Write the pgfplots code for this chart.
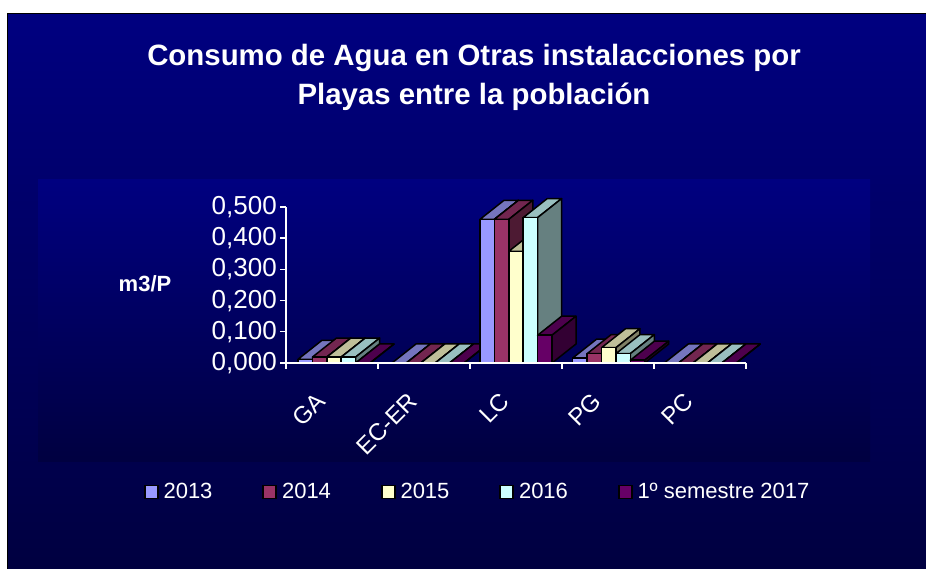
\documentclass[border=0pt]{standalone}
\usepackage{fontspec}
\setmainfont{Liberation Sans}
\usepackage{pgfplots}
\pgfplotsset{compat=1.18}
\definecolor{cA}{HTML}{9999FF}\definecolor{tA}{HTML}{7575BE}\definecolor{sA}{HTML}{4D4D80}
\definecolor{cB}{HTML}{993366}\definecolor{tB}{HTML}{732650}\definecolor{sB}{HTML}{4D1A33}
\definecolor{cC}{HTML}{FFFFCC}\definecolor{tC}{HTML}{BFBF99}\definecolor{sC}{HTML}{808066}
\definecolor{cD}{HTML}{CCFFFF}\definecolor{tD}{HTML}{99BFBF}\definecolor{sD}{HTML}{668080}
\definecolor{cE}{HTML}{660066}\definecolor{tE}{HTML}{4D004D}\definecolor{sE}{HTML}{330033}
% top and side faces of one bar: group centre, series index, value, top colour, side colour
\newcommand\faces[5]{%
  \pgfmathsetmacro\xa{#1+(#2-2.5)*0.1565}%
  \pgfmathsetmacro\xb{\xa+0.1565}%
  \pgfmathsetmacro\xc{\xb+0.261}%
  \pgfmathsetmacro\xd{\xa+0.261}%
  \pgfmathsetmacro\vb{#3+0.0609}%
  \addplot[fill=#4,draw=black,line width=1.5pt,line join=round,forget plot]
     coordinates {(\xa,#3) (\xb,#3) (\xc,\vb) (\xd,\vb)} --cycle;
  \addplot[fill=#5,draw=black,line width=1.5pt,line join=round,forget plot]
     coordinates {(\xb,0) (\xc,0.0609) (\xc,\vb) (\xb,#3)} --cycle;
}
\newcommand\facesrow[7]{%
  \faces{0.522}{#1}{#2}{#6}{#7}\faces{2.5}{#1}{#3}{#6}{#7}%
  \faces{3.508}{#1}{#4}{#6}{#7}\faces{4.503}{#1}{#5}{#6}{#7}}
\begin{document}
\begin{tikzpicture}[x=1pt,y=1pt]
\useasboundingbox (0,0) rectangle (926,569);
\fill[white] (0,0) rectangle (926,569);
\shade[top color={rgb,255:red,0;green,0;blue,128},bottom color={rgb,255:red,0;green,0;blue,64}] (7,0) rectangle (926,555);
\draw[black,line width=1pt] (7,0) -- (7,555) -- (926,555);
\shade[top color={rgb,255:red,0;green,0;blue,128},bottom color={rgb,255:red,0;green,0;blue,64}] (38,107) rectangle (870,389);
\begin{axis}[
  at={(286pt,206pt)},anchor=origin,
  scale only axis,width=460pt,height=156pt,
  xmin=0,xmax=5,ymin=0,ymax=0.5,clip=false,axis on top,
  axis x line*=bottom,axis y line*=left,
  axis line style={-,white,line width=1.4pt},
  tick style={white,line width=1.4pt},
  major tick length=6pt,tick align=outside,
  xtick={0,1,2,3,4,5},xticklabels={},
  extra x ticks={0.5,1.5,2.5,3.5,4.5},
  extra x tick labels={GA,EC-ER,LC,PG,PC},
  extra x tick style={major tick length=0pt,
    tick label style={rotate=45,anchor=north east,white,font=\fontsize{24}{26}\selectfont,inner sep=7pt,xshift=-24.8pt,yshift=-1pt}},
  ytick={0,0.1,0.2,0.3,0.4,0.5},
  yticklabel style={white,font=\fontsize{26}{28}\selectfont,inner sep=3pt,
    /pgf/number format/.cd,fixed,zerofill,precision=3,use comma,assume math mode=true},
  title={Consumo de Agua en Otras instalacciones por\\[3pt]Playas entre la población},
  title style={at={(0.4087,1.795)},anchor=center,align=center,white,
    font=\bfseries\fontsize{29.4}{36}\selectfont},
  ylabel={m3/P},
  every axis y label/.style={at={(axis description cs:-0.3065,0.506)},anchor=center,white,
    font=\bfseries\fontsize{22}{24}\selectfont},
  legend columns=-1,
  legend style={at={(axis description cs:-0.3087,-0.826)},anchor=west,draw=none,fill=none,
    text=white,font=\fontsize{22}{24}\selectfont,inner sep=0pt,outer sep=0pt,
    /tikz/every even column/.append style={column sep=48pt}},
  legend cell align=left,
  legend image code/.code={\draw[#1,draw=black,line width=1.6pt] (0pt,-6.5pt) rectangle (13pt,6.5pt);\path (16pt,0pt);},
]
% EC-ER lies behind everything: its floor stripes run under the first LC bar
\faces{1.543}{0}{0}{tA}{sA}\faces{1.543}{1}{0}{tB}{sB}\faces{1.543}{2}{0}{tC}{sC}\faces{1.543}{3}{0}{tD}{sD}\faces{1.543}{4}{0}{tE}{sE}
\facesrow{0}{0.012}{0.4605}{0.016}{0}{tA}{sA}
\addplot[ybar,bar width=14.4pt,bar shift=-28.8pt,fill=cA,draw=black,line width=1.5pt]
  coordinates {(0.522,0.012) (1.543,0) (2.5,0.4605) (3.508,0.016) (4.503,0)};
\addlegendentry{2013}
\facesrow{1}{0.019}{0.4605}{0.030}{0}{tB}{sB}
\addplot[ybar,bar width=14.4pt,bar shift=-14.4pt,fill=cB,draw=black,line width=1.5pt]
  coordinates {(0.522,0.019) (1.543,0) (2.5,0.4605) (3.508,0.030) (4.503,0)};
\addlegendentry{2014}
\facesrow{2}{0.019}{0.358}{0.049}{0}{tC}{sC}
\addplot[ybar,bar width=14.4pt,bar shift=0pt,fill=cC,draw=black,line width=1.5pt]
  coordinates {(0.522,0.019) (1.543,0) (2.5,0.358) (3.508,0.049) (4.503,0)};
\addlegendentry{2015}
\facesrow{3}{0.019}{0.466}{0.030}{0}{tD}{sD}
\addplot[ybar,bar width=14.4pt,bar shift=14.4pt,fill=cD,draw=black,line width=1.5pt]
  coordinates {(0.522,0.019) (1.543,0) (2.5,0.466) (3.508,0.030) (4.503,0)};
\addlegendentry{2016}
\facesrow{4}{0}{0.089}{0.009}{0}{tE}{sE}
\addplot[ybar,bar width=14.4pt,bar shift=28.8pt,fill=cE,draw=black,line width=1.5pt]
  coordinates {(0.522,0) (1.543,0) (2.5,0.089) (3.508,0.009) (4.503,0)};
\addlegendentry{1º semestre 2017}
\end{axis}
\end{tikzpicture}
\end{document}
